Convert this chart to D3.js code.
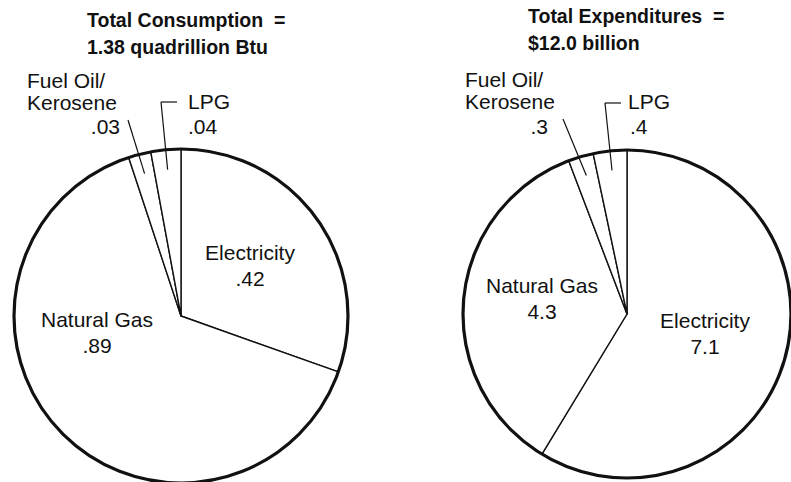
<!DOCTYPE html>
<html>
<head>
<meta charset="utf-8">
<script src="https://cdn.jsdelivr.net/npm/d3@7"></script>
<style>
  html, body { margin: 0; padding: 0; background: #fff; }
  svg text { font-family: "Liberation Sans", Arial, Helvetica, sans-serif; fill: #111; }
</style>
</head>
<body>
<svg id="chart" width="791" height="482"></svg>
<script>
// ---- Data ----
const categories = ["Electricity", "Natural Gas", "Fuel Oil/Kerosene", "LPG"];
const consumptionValues = [0.42, 0.89, 0.03, 0.04];      // quadrillion Btu
const consumptionLabels = [".42", ".89", ".03", ".04"];
const expenditureValues = [7.1, 4.3, 0.3, 0.4];          // billion $
const expenditureLabels = ["7.1", "4.3", ".3", ".4"];
const titles = [
  ["Total Consumption  =", "1.38 quadrillion Btu"],
  ["Total Expenditures  =", "$12.0 billion"]
];

// ---- Layout ----
const svg = d3.select("#chart");
const panels = [
  {
    values: consumptionValues, labels: consumptionLabels, title: titles[0],
    cx: 181, cy: 316, r: 167, titleX: 87, titleY: 27,
    labelPos: [
      {dx: 69, dy: -56, anchor: "middle"},
      {dx: -84, dy: 11, anchor: "middle"},
      {dx: -154, dy: -228, anchor: "start", value: {dx: -61, dy: -182, anchor: "end"}},
      {dx: 7, dy: -207, anchor: "start", value: {dx: 7, dy: -182, anchor: "start"}}
    ],
    leaders: [null, null, {x: -53, y: -196}, {x: -20, y: -214, hx: -4}]
  },
  {
    values: expenditureValues, labels: expenditureLabels, title: titles[1],
    cx: 627, cy: 314, r: 164, titleX: 528, titleY: 23,
    labelPos: [
      {dx: 78, dy: 14, anchor: "middle"},
      {dx: -85, dy: -21, anchor: "middle"},
      {dx: -162, dy: -227, anchor: "start", value: {dx: -79, dy: -180, anchor: "end"}},
      {dx: 1, dy: -205, anchor: "start", value: {dx: 3, dy: -180, anchor: "start"}}
    ],
    leaders: [null, null, {x: -64, y: -195}, {x: -22, y: -211, hx: -5}]
  }
];

const pie = d3.pie().sort(null).value(d => d).startAngle(0).endAngle(2 * Math.PI);
const fontSize = 21;
const lineGap = 26;
const wrapGap = 22;

panels.forEach(p => {
  const g = svg.append("g").attr("transform", `translate(${p.cx},${p.cy})`);
  const arcs = pie(p.values);
  const arc = d3.arc().innerRadius(0).outerRadius(p.r);
  const leaderArc = d3.arc().innerRadius(p.r * 0.88).outerRadius(p.r * 0.88);

  g.selectAll("path.slice").data(arcs).enter().append("path")
    .attr("class", "slice")
    .attr("d", arc)
    .attr("fill", "#fff")
    .attr("stroke", "#111")
    .attr("stroke-width", 1.4)
    .attr("stroke-linejoin", "round");

  g.append("circle").attr("r", p.r)
    .attr("fill", "none").attr("stroke", "#111").attr("stroke-width", 3.2);

  arcs.forEach((a, i) => {
    const L = p.leaders[i];
    if (!L) return;
    const inner = leaderArc.centroid(a);
    g.append("line")
      .attr("x1", L.x).attr("y1", L.y)
      .attr("x2", inner[0]).attr("y2", inner[1])
      .attr("stroke", "#111").attr("stroke-width", 1.2);
    if (L.hx !== undefined) {
      g.append("line")
        .attr("x1", L.x).attr("y1", L.y)
        .attr("x2", L.x + 16).attr("y2", L.y)
        .attr("stroke", "#111").attr("stroke-width", 1.2);
    }
  });

  arcs.forEach((a, i) => {
    const lp = p.labelPos[i];
    const name = categories[i];
    if (name.includes("/")) {
      const t = g.append("text").attr("x", lp.dx).attr("y", lp.dy)
        .attr("text-anchor", lp.anchor).attr("font-size", fontSize);
      ["Fuel Oil/", "Kerosene"].forEach((s, k) => {
        t.append("tspan").attr("x", lp.dx).attr("dy", k === 0 ? 0 : wrapGap).text(s);
      });
    } else {
      g.append("text").attr("x", lp.dx).attr("y", lp.dy)
        .attr("text-anchor", lp.anchor).attr("font-size", fontSize).text(name);
    }
    const vp = lp.value || {dx: lp.dx, dy: lp.dy + lineGap, anchor: lp.anchor};
    g.append("text").attr("x", vp.dx).attr("y", vp.dy)
      .attr("text-anchor", vp.anchor).attr("font-size", fontSize).text(p.labels[i]);
  });

  p.title.forEach((t, k) => {
    svg.append("text").attr("x", p.titleX).attr("y", p.titleY + k * 27)
      .attr("font-size", 19.5).attr("font-weight", "bold")
      .attr("xml:space", "preserve").style("white-space", "pre").text(t);
  });
});
</script>
</body>
</html>
